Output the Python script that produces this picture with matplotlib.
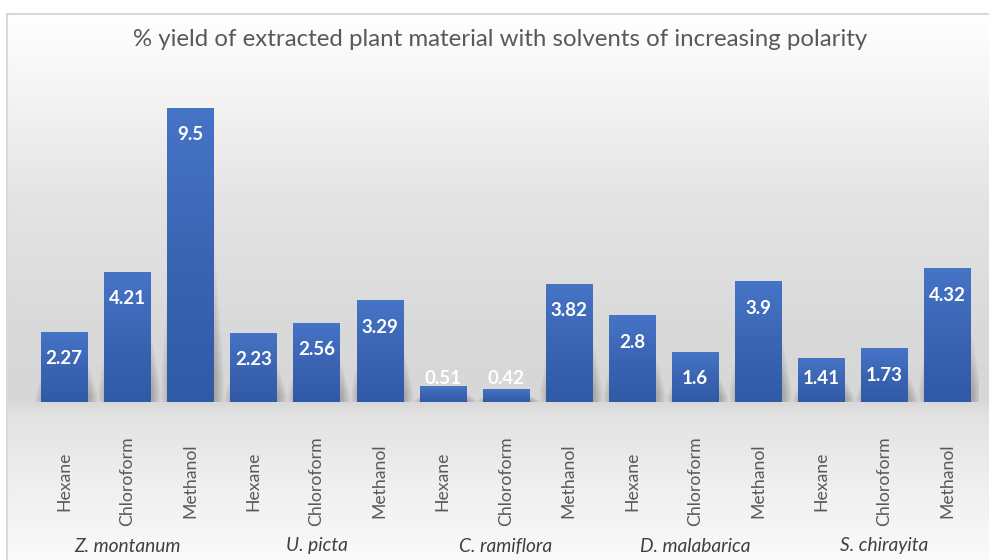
import numpy as np
import matplotlib
matplotlib.use("Agg")
import matplotlib.pyplot as plt
from matplotlib.colors import LinearSegmentedColormap
from matplotlib.transforms import blended_transform_factory

title = "% yield of extracted plant material with solvents of increasing polarity"
plants = ["Z. montanum", "U. picta", "C. ramiflora", "D. malabarica", "S. chirayita"]
solvents = ["Hexane", "Chloroform", "Methanol"]
yields = [2.27, 4.21, 9.5,
          2.23, 2.56, 3.29,
          0.51, 0.42, 3.82,
          2.8, 1.6, 3.9,
          1.41, 1.73, 4.32]

W, H = 989, 560
fig = plt.figure(figsize=(W / 100, H / 100), dpi=100)
fig.patch.set_facecolor("white")

# background gradient chart area
bg = fig.add_axes([7 / W, 0, 1 - 7 / W, (H - 14) / H], zorder=0)
bg.set_axis_off()
stops = [(0.0, "#ffffff"), (0.157, "#f3f3f3"), (0.34, "#e4e4e4"), (0.58, "#d9d9d9"),
         (0.707, "#d7d7d7"), (0.74, "#e3e3e3"), (0.85, "#eeeeee"), (1.0, "#fafafa")]
cmap_bg = LinearSegmentedColormap.from_list("bg", stops)
grad = np.linspace(0, 1, 512).reshape(-1, 1)
bg.imshow(grad, aspect="auto", cmap=cmap_bg, extent=[0, 1, 0, 1], origin="upper", vmin=0, vmax=1)
bg.set_xlim(0, 1)
bg.set_ylim(0, 1)
# border lines
fig.add_artist(plt.Line2D([7 / W, 7 / W], [0, 1 - 14 / H], color="#d9d9d9", lw=1.5, transform=fig.transFigure))
fig.add_artist(plt.Line2D([7 / W, 1], [1 - 14 / H, 1 - 14 / H], color="#d9d9d9", lw=1.5, transform=fig.transFigure))

left_px, right_px = 32.5, 979
base_px = 402
ppu = 30.95
ymax = 10
top_px = base_px - ymax * ppu
ax = fig.add_axes([left_px / W, (H - base_px) / H, (right_px - left_px) / W, (base_px - top_px) / H], zorder=1)
ax.patch.set_alpha(0)
for s in ax.spines.values():
    s.set_visible(False)
ax.set_xticks([])
ax.set_yticks([])

x = np.arange(len(yields))
bw = 0.73

# soft shadows behind bars (blurred by layering)
n_layers = 24
for xi, v in zip(x, yields):
    for k in range(n_layers):
        f = k / (n_layers - 1)
        ax.bar(xi + 0.04, v * (0.5 - 0.4 * f), width=bw + 0.28 * f, bottom=0,
               color="#000000", alpha=0.008, zorder=1, linewidth=0)

bars = ax.bar(x, yields, width=bw, color="#4472c4", zorder=2, linewidth=0)
cmap_bar = LinearSegmentedColormap.from_list("bar", ["#4674c6", "#3b65b3", "#3059a6"])
for b in bars:
    bx, by = b.get_x(), b.get_y()
    bwid, bh = b.get_width(), b.get_height()
    im = ax.imshow(np.linspace(0, 1, 128).reshape(-1, 1), aspect="auto", cmap=cmap_bar,
                   extent=[bx, bx + bwid, by, by + bh], origin="upper", zorder=3)
    im.set_clip_path(b)
ax.set_xlim(-0.5, len(yields) - 0.5)
ax.set_ylim(0, ymax)

# value labels
for xi, v in zip(x, yields):
    ylab = max(v - 27 / ppu, 23 / ppu)
    ax.text(xi, ylab, f"{v:g}", ha="center", va="center", color="white",
            fontsize=13.5, fontweight="bold", family="Lato", zorder=5)

trans = blended_transform_factory(ax.transData, fig.transFigure)
for i, xi in enumerate(x):
    ax.text(xi, 1 - 481 / H, solvents[i % 3], rotation=90, ha="center", va="center",
            color="#595959", fontsize=12.7, family="Lato", transform=trans)
for g, name in enumerate(plants):
    ax.text(g * 3 + 1, 1 - 546 / H, name, ha="center", va="center", style="italic",
            color="#404040", fontsize=13.8, family="Lato", transform=trans)

fig.text(500 / W, 1 - 40 / H, title, ha="center", va="center", color="#595959",
         fontsize=17.3, family="Lato")

fig.savefig("out.png", dpi=100)
